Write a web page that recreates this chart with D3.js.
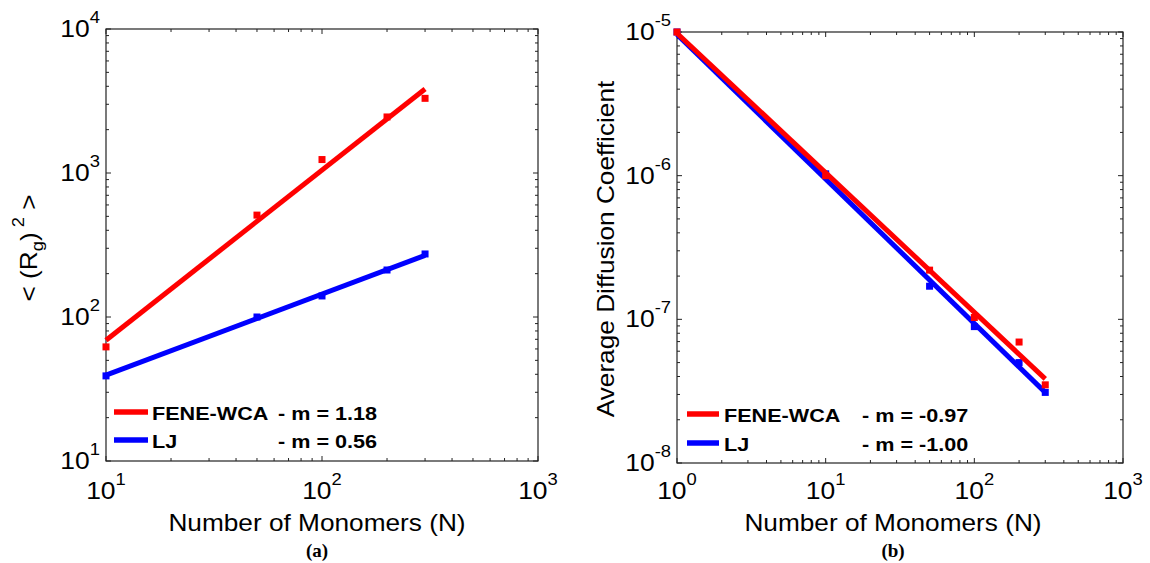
<!DOCTYPE html>
<html><head><meta charset="utf-8">
<script src="https://cdn.jsdelivr.net/npm/d3@7"></script>
<style>body{margin:0;background:#fff}svg{display:block}text{font-family:"Liberation Sans",Arial,Helvetica,sans-serif}</style>
</head><body><svg id="c" width="1150" height="563"></svg>
<script>
// ---- data ----
const leftN = [10, 50, 100, 200, 300];
const feneRg = [62, 510, 1240, 2450, 3300];
const ljRg = [39, 100, 140, 212, 274];
const fitNLeft = [10, 300];
const feneRgFit = [69, 3830];
const ljRgFit = [39.5, 268];

const rightN = [1, 10, 50, 100, 200, 300];
const feneD = [1e-5, 1e-6, 2.2e-7, 1.03e-7, 6.95e-8, 3.5e-8];
const ljD = [1e-5, 1.03e-6, 1.7e-7, 8.9e-8, 5.0e-8, 3.1e-8];
const fitNRight = [1, 300];
const feneDFit = [9.8e-6, 3.85e-8];
const ljDFit = [9.6e-6, 3.1e-8];

const leftXTicks = [1, 2, 3];      // exponents
const leftYTicks = [1, 2, 3, 4];
const rightXTicks = [0, 1, 2, 3];
const rightYTicks = [-8, -7, -6, -5];
const legendLeft = [["FENE-WCA", "- m = 1.18"], ["LJ", "- m = 0.56"]];
const legendRight = [["FENE-WCA", "- m = -0.97"], ["LJ", "- m = -1.00"]];
const RED = "#ff0000", BLUE = "#0000ff";

const svg = d3.select("#c");

function panel(cfg) {
  const g = svg.append("g");
  const x = d3.scaleLog().domain(cfg.xd).range(cfg.xr);
  const y = d3.scaleLog().domain(cfg.yd).range(cfg.yr);
  const [x0, x1] = cfg.xr, [y0, y1] = cfg.yr; // y0 bottom, y1 top
  g.append("rect").attr("x", x0).attr("y", y1).attr("width", x1 - x0).attr("height", y0 - y1)
    .attr("fill", "none").attr("stroke", "#222").attr("stroke-width", 1.2);
  const tg = g.append("g").attr("stroke", "#222").attr("stroke-width", 1);
  function decTicks(dom) {
    const out = [];
    const e0 = Math.round(Math.log10(dom[0])), e1 = Math.round(Math.log10(dom[1]));
    for (let e = e0; e <= e1; e++) for (let k = 1; k <= 9; k++) {
      const v = k * Math.pow(10, e);
      if (v >= dom[0] * 0.999 && v <= dom[1] * 1.001) out.push([v, k === 1]);
    }
    return out;
  }
  decTicks(cfg.xd).forEach(([v, maj]) => {
    const xx = x(v), L = maj ? 5 : 3;
    tg.append("line").attr("x1", xx).attr("x2", xx).attr("y1", y0).attr("y2", y0 - L);
    tg.append("line").attr("x1", xx).attr("x2", xx).attr("y1", y1).attr("y2", y1 + L);
  });
  decTicks(cfg.yd).forEach(([v, maj]) => {
    const yy = y(v), L = maj ? 5 : 3;
    tg.append("line").attr("y1", yy).attr("y2", yy).attr("x1", x0).attr("x2", x0 + L);
    tg.append("line").attr("y1", yy).attr("y2", yy).attr("x1", x1).attr("x2", x1 - L);
  });
  function powLabel(px, py, e, anchor) {
    const t = g.append("text").attr("transform", `translate(${px},${py}) scale(1.15,1)`)
      .attr("text-anchor", anchor).attr("fill", "#000");
    t.append("tspan").attr("font-size", 23).text("10");
    t.append("tspan").attr("font-size", 16).attr("dy", -14).text(String(e));
  }
  cfg.xTicks.forEach(e => powLabel(x(Math.pow(10, e)), 499, e, "middle"));
  cfg.yTicks.forEach(e => powLabel(x0 - 6, y(Math.pow(10, e)) + 8, e, "end"));

  const line = d3.line().x(d => x(d[0])).y(d => y(d[1]));
  function series(Ns, vals, fitNs, fitVals, color) {
    g.append("path").attr("d", line(d3.zip(fitNs, fitVals))).attr("fill", "none")
      .attr("stroke", color).attr("stroke-width", 5);
    g.selectAll(null).data(d3.zip(Ns, vals)).enter().append("rect")
      .attr("x", d => x(d[0]) - 3.5).attr("y", d => y(d[1]) - 3.5)
      .attr("width", 7).attr("height", 7).attr("fill", color);
  }
  series(cfg.N, cfg.blue, cfg.fitN, cfg.blueFit, BLUE);
  series(cfg.N, cfg.red, cfg.fitN, cfg.redFit, RED);

  const lg = g.append("g");
  cfg.legend.forEach((row, i) => {
    const ly = cfg.legY[i];
    lg.append("line").attr("x1", cfg.legX[0]).attr("x2", cfg.legX[1]).attr("y1", ly).attr("y2", ly)
      .attr("stroke", i === 0 ? RED : BLUE).attr("stroke-width", 5.5);
    lg.append("text").attr("transform", `translate(${cfg.legX[2]},${ly + 7.5}) scale(1.2,1)`)
      .attr("font-size", 18).attr("font-weight", "bold").text(row[0]);
    lg.append("text").attr("transform", `translate(${cfg.legX[3]},${ly + 7.5}) scale(1.2,1)`)
      .attr("font-size", 18).attr("font-weight", "bold").text(row[1]);
  });

  g.append("text").attr("transform", `translate(${cfg.xlabX},531) scale(1.14,1)`)
    .attr("text-anchor", "middle").attr("font-size", 23).text("Number of Monomers (N)");
  g.append("text").attr("x", cfg.xlabX).attr("y", 557).attr("text-anchor", "middle")
    .style("font-family", "'Liberation Serif', 'Times New Roman', serif").attr("font-weight", "bold")
    .attr("font-size", 19).text(cfg.tag);
  return g;
}

panel({
  xd: [10, 1000], xr: [106, 538], yd: [10, 10000], yr: [461, 29],
  xTicks: leftXTicks, yTicks: leftYTicks,
  N: leftN, red: feneRg, blue: ljRg, fitN: fitNLeft, redFit: feneRgFit, blueFit: ljRgFit,
  legend: legendLeft, legY: [412, 440], legX: [114, 148, 152, 278],
  xlabX: 317, tag: "(a)"
});
panel({
  xd: [1, 1000], xr: [677, 1123], yd: [1e-8, 1e-5], yr: [463, 32],
  xTicks: rightXTicks, yTicks: rightYTicks,
  N: rightN, red: feneD, blue: ljD, fitN: fitNRight, redFit: feneDFit, blueFit: ljDFit,
  legend: legendRight, legY: [414, 443], legX: [687, 719, 724, 862],
  xlabX: 893, tag: "(b)"
});

const yl = svg.append("text").attr("transform", "translate(37,248) rotate(-90) scale(1.14,1)")
  .attr("text-anchor", "middle").attr("font-size", 23);
yl.append("tspan").text("< (R");
yl.append("tspan").attr("font-size", 16).attr("dy", 6).text("g");
yl.append("tspan").attr("dy", -6).text(")");
yl.append("tspan").attr("font-size", 16).attr("dy", -13).text(" 2");
yl.append("tspan").attr("dy", 13).text(" >");

svg.append("text").attr("transform", "translate(614,249) rotate(-90) scale(1.14,1)")
  .attr("text-anchor", "middle").attr("font-size", 23).text("Average Diffusion Coefficient");
</script></body></html>
